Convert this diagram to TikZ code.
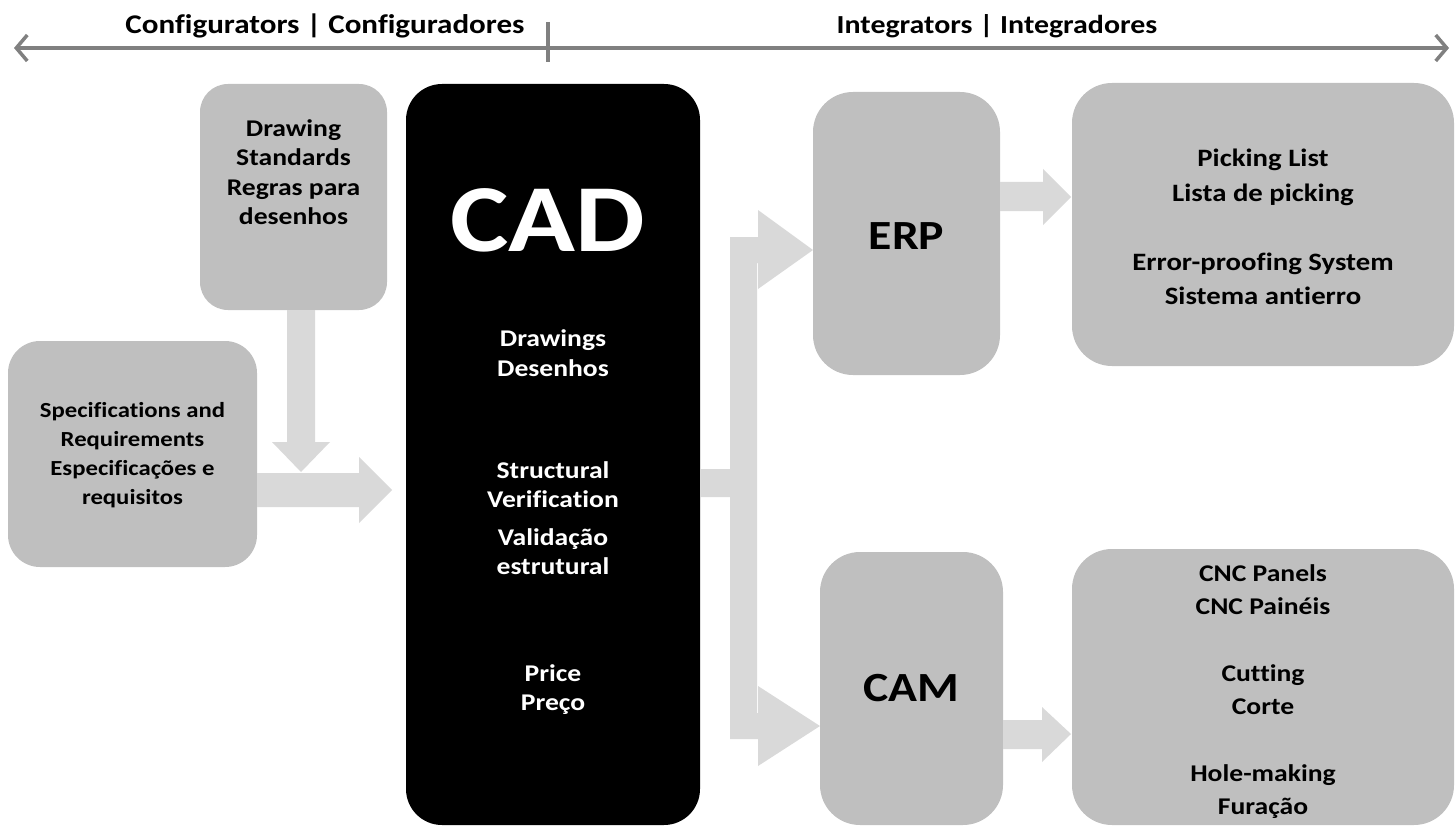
\documentclass[tikz,border=0pt]{standalone}
\usepackage{fontspec}
\setmainfont{Carlito}[FakeStretch=1.15, Ligatures=NoCommon]
\usetikzlibrary{arrows.meta}
\definecolor{boxgray}{HTML}{BFBFBF}
\definecolor{arrgray}{HTML}{D9D9D9}
\definecolor{linegray}{HTML}{808080}
\begin{document}
\begin{tikzpicture}[x=1pt,y=-1pt,
  box/.style={fill=boxgray, draw=none, rounded corners=#1, inner sep=0pt},
  btext/.style={align=center, inner sep=0pt},
  cadbox/.style={fill=black, draw=none, rounded corners=36, inner sep=0pt},
  cadtext/.style={text=white, align=center, font=\bfseries\fontsize{24}{29.5}\selectfont, inner sep=0pt},
  title/.style={font=\bfseries\fontsize{27}{30}\selectfont, inner sep=0pt},
  fat/.style={fill=arrgray, draw=none},
  scale line/.style={draw=linegray, line width=3.5pt}
]
\useasboundingbox (0,0) rectangle (1455,829);

% top scale
\coordinate (ltip) at (14,48);
\coordinate (rtip) at (1449,48);
\coordinate (ttop) at (548,22);
\coordinate (tbot) at (548,62);
\draw[scale line, {Straight Barb[length=11pt,width=26pt]}-{Straight Barb[length=11pt,width=26pt]}] (ltip) -- (rtip);
\draw[scale line] (ttop) -- (tbot);
\node[title] (tconf) at (325,26) {Configurators | Configuradores};
\node[title, font=\bfseries\fontsize{26}{30}\selectfont] (tint) at (997,26) {Integrators | Integradores};

% boxes
\node[box=28, minimum width=187pt, minimum height=226pt] (std) at (293.5,197) {};
\node[box=32, minimum width=249pt, minimum height=226pt] (spec) at (132.5,454) {};
\node[cadbox, minimum width=294pt, minimum height=741pt] (cad) at (553,454.5) {};
\node[box=40, minimum width=187pt, minimum height=283pt] (erp) at (906.5,233.5) {};
\node[box=40, minimum width=382pt, minimum height=283pt] (pick) at (1263,224.5) {};
\node[box=40, minimum width=183pt, minimum height=273pt] (cam) at (911.5,688.5) {};
\node[box=40, minimum width=382pt, minimum height=276pt] (cnc) at (1263,687) {};

% box texts
\node[btext, font=\bfseries\fontsize{24}{29.5}\selectfont] (stdt) at (293.5,172) {Drawing\\Standards\\Regras para\\desenhos};
\node[btext, font=\bfseries\fontsize{21.5}{29}\selectfont] (spect) at (132.5,455) {Specifications and\\Requirements\\Especificações e\\requisitos};
\node[btext, font=\bfseries\fontsize{41.5}{48}\selectfont] (erpt) at (906.5,236) {ERP};
\node[btext, font=\bfseries\fontsize{41.5}{48}\selectfont] (camt) at (911.5,688) {CAM};
\node[btext, font=\bfseries\fontsize{25}{34.5}\selectfont] (pickt) at (1263,227) {Picking List\\Lista de picking\\[34.5pt]Error-proofing System\\Sistema antierro};
\node[btext, font=\bfseries\fontsize{24}{33.3}\selectfont] (cnct) at (1263,691.5) {CNC Panels\\CNC Painéis\\[33.3pt]Cutting\\Corte\\[33.3pt]Hole-making\\Furação};

% CAD texts
\node[cadtext, font=\bfseries\fontsize{96}{100}\selectfont] (cadt) at (548,220) {CAD};
\node[cadtext] (cdraw) at (553,353) {Drawings\\Desenhos};
\node[cadtext] (cstruct) at (553,518) {Structural\\Verification\\[8pt]Validação\\estrutural};
\node[cadtext] (cprice) at (553,689.5) {Price\\Preço};

% fat arrows
\fill[fat] (287,310) -- (287,442) -- (272,442) -- (301,472) -- (330,442) -- (315,442) -- (315,310) -- cycle;
\fill[fat] (257,473) -- (359,473) -- (359,457) -- (392,490) -- (359,523) -- (359,507) -- (257,507) -- cycle;
\fill[fat] (700,469) -- (730,469) -- (730,237) -- (758,237) -- (758,210) -- (813,250) -- (758,289) -- (758,263)
   -- (757,263) -- (757,713) -- (758,713) -- (758,686) -- (820,726) -- (758,766) -- (758,739) -- (730,739)
   -- (730,497) -- (700,497) -- cycle;
\fill[fat] (1000,182) -- (1043,182) -- (1043,169) -- (1071,197) -- (1043,225) -- (1043,211) -- (1000,211) -- cycle;
\fill[fat] (1003,720) -- (1042,720) -- (1042,707) -- (1071,734) -- (1042,762) -- (1042,749) -- (1003,749) -- cycle;
\end{tikzpicture}
\end{document}
